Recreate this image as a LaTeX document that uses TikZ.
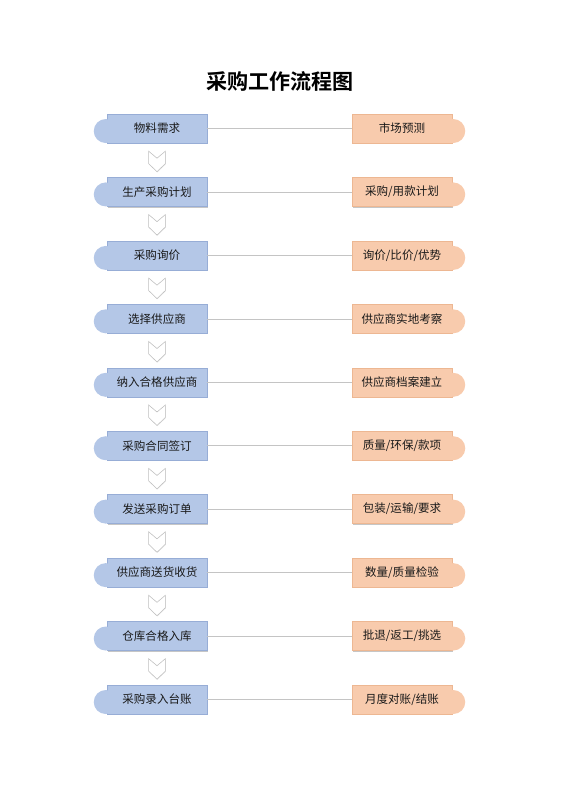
\documentclass[tikz,border=0pt]{standalone}
\usepackage{fontspec}
\setmainfont{Noto Sans CJK SC}[BoldFont={Noto Sans CJK SC Bold}]
\usetikzlibrary{shadows,positioning}
\definecolor{bluebox}{HTML}{B4C7E7}
\definecolor{blueline}{HTML}{97ADD6}
\definecolor{orangebox}{HTML}{F8CBAD}
\definecolor{orangeline}{HTML}{EDB792}
\definecolor{linkgray}{HTML}{C4C4C4}
\def \boxfont {\fontsize{12.3}{14}\selectfont}
% down chevron under a node
\newcommand{\chev}[1]{\draw[chevarrow] (#1.south) ++(-8.3,8) -- ++(8.3,7) -- ++(8.3,-7)
  -- ++(0,12.5) -- ++(-8.3,8) -- ++(-8.3,-8) -- cycle;}
% round tabs on the outer sides of row #1
\newcommand{\tabs}[1]{\fill[bluebox] ([xshift=-0.4mm, yshift=-0.95mm]l#1.west) circle (4.5mm);
  \fill[orangebox] ([xshift=0.4mm, yshift=-0.95mm]r#1.east) circle (4.5mm);}

\begin{document}
\begin{tikzpicture}[x=0.375mm, y=-0.375mm, font=\boxfont,
    lstep/.style={rectangle, fill=bluebox, draw=blueline, line width=0.4pt,
      minimum width=37.5mm, minimum height=10.9mm, inner sep=0pt, text=black!90,
      drop shadow={shadow xshift=0.8pt, shadow yshift=-1.2pt, opacity=0.45}},
    rstep/.style={lstep, fill=orangebox, draw=orangeline},
    link/.style={draw=linkgray, line width=0.6pt},
    chevarrow/.style={draw=black!25, fill=white, line width=0.6pt, line join=miter,
      drop shadow={shadow xshift=0.5pt, shadow yshift=-0.6pt, opacity=0.15}}]
  \useasboundingbox (0,0) rectangle (560,792);

  % Title
  \node[font=\fontsize{22.5}{25}\selectfont\bfseries] (title) at (280,81) {采购工作流程图};

  % Row 1
  \node[lstep] (l1) at (157,128.5) {物料需求};
  \node[rstep] (r1) at (402,128.5) {市场预测};
  \draw[link] (l1) -- (r1);

  % Row 2
  \node[lstep] (l2) at (157,191.9) {生产采购计划};
  \node[rstep] (r2) at (402,191.9) {采购/用款计划};
  \draw[link] (l2) -- (r2);

  % Row 3
  \node[lstep] (l3) at (157,255.4) {采购询价};
  \node[rstep] (r3) at (402,255.4) {询价/比价/优势};
  \draw[link] (l3) -- (r3);

  % Row 4
  \node[lstep] (l4) at (157,318.8) {选择供应商};
  \node[rstep] (r4) at (402,318.8) {供应商实地考察};
  \draw[link] (l4) -- (r4);

  % Row 5
  \node[lstep] (l5) at (157,382.3) {纳入合格供应商};
  \node[rstep] (r5) at (402,382.3) {供应商档案建立};
  \draw[link] (l5) -- (r5);

  % Row 6
  \node[lstep] (l6) at (157,445.7) {采购合同签订};
  \node[rstep] (r6) at (402,445.7) {质量/环保/款项};
  \draw[link] (l6) -- (r6);

  % Row 7
  \node[lstep] (l7) at (157,509.1) {发送采购订单};
  \node[rstep] (r7) at (402,509.1) {包装/运输/要求};
  \draw[link] (l7) -- (r7);

  % Row 8
  \node[lstep] (l8) at (157,572.6) {供应商送货收货};
  \node[rstep] (r8) at (402,572.6) {数量/质量检验};
  \draw[link] (l8) -- (r8);

  % Row 9
  \node[lstep] (l9) at (157,636.0) {仓库合格入库};
  \node[rstep] (r9) at (402,636.0) {批退/返工/挑选};
  \draw[link] (l9) -- (r9);

  % Row 10
  \node[lstep] (l10) at (157,699.5) {采购录入台账};
  \node[rstep] (r10) at (402,699.5) {月度对账/结账};
  \draw[link] (l10) -- (r10);

  % Tabs on the boxes
  \tabs{1} \tabs{2} \tabs{3} \tabs{4} \tabs{5}
  \tabs{6} \tabs{7} \tabs{8} \tabs{9} \tabs{10}

  % Chevrons between steps
  \chev{l1} \chev{l2} \chev{l3}
  \chev{l4} \chev{l5} \chev{l6}
  \chev{l7} \chev{l8} \chev{l9}

\end{tikzpicture}
\end{document}
